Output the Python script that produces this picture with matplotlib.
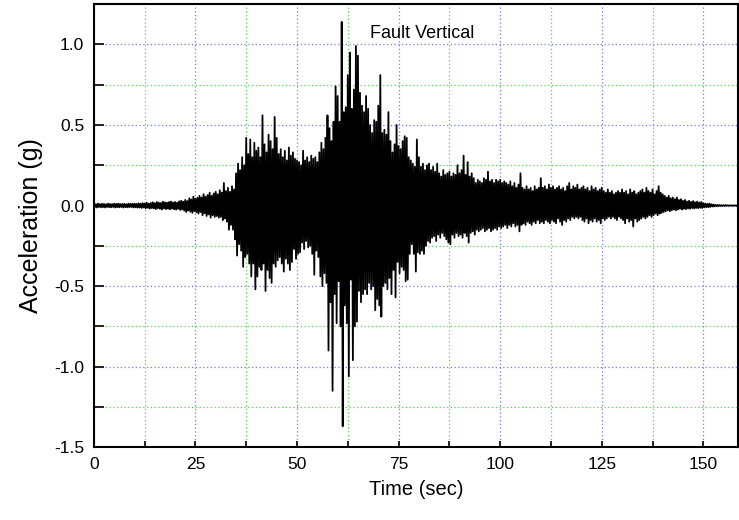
import numpy as np
import matplotlib
matplotlib.use("Agg")
import matplotlib.pyplot as plt
from matplotlib.ticker import MultipleLocator, FormatStrFormatter

plt.rcParams['font.family'] = ['Liberation Sans', 'DejaVu Sans']

# peak values, one per 0.5 s (t = 0 ... 158.5 s)
dt = 0.5
peak_up = [
    0.010, 0.008, 0.012, 0.009, 0.011, 0.010, 0.008, 0.012, 0.010, 0.009, 0.011, 0.010, 0.012, 0.009, 0.010, 0.011, 0.008, 0.012, 0.010, 0.011,
    0.012, 0.010, 0.014, 0.011, 0.015, 0.013, 0.018, 0.012, 0.016, 0.020, 0.015, 0.022, 0.018, 0.016, 0.024, 0.020, 0.018, 0.022, 0.025, 0.019,
    0.022, 0.018, 0.026, 0.030, 0.024, 0.035, 0.028, 0.045, 0.038, 0.055, 0.042, 0.048, 0.060, 0.050, 0.070, 0.055, 0.065, 0.080, 0.060, 0.075,
    0.085, 0.070, 0.095, 0.080, 0.140, 0.090, 0.110, 0.085, 0.120, 0.100, 0.200, 0.260, 0.220, 0.300, 0.250, 0.420, 0.320, 0.410, 0.300, 0.390,
    0.340, 0.360, 0.300, 0.560, 0.380, 0.330, 0.440, 0.400, 0.350, 0.550, 0.420, 0.320, 0.350, 0.300, 0.340, 0.280, 0.360, 0.310, 0.330, 0.290,
    0.280, 0.270, 0.250, 0.340, 0.280, 0.300, 0.270, 0.310, 0.290, 0.300, 0.270, 0.330, 0.390, 0.350, 0.420, 0.560, 0.480, 0.400, 0.520, 0.740,
    0.680, 0.520, 1.140, 0.580, 0.610, 0.810, 0.950, 0.600, 0.720, 0.990, 0.930, 0.700, 0.620, 0.580, 0.680, 0.600, 0.500, 0.450, 0.530, 0.520,
    0.620, 0.810, 0.450, 0.470, 0.440, 0.580, 0.400, 0.330, 0.380, 0.500, 0.370, 0.350, 0.400, 0.430, 0.420, 0.300, 0.280, 0.260, 0.240, 0.410,
    0.300, 0.240, 0.260, 0.220, 0.250, 0.260, 0.220, 0.240, 0.210, 0.260, 0.200, 0.180, 0.220, 0.190, 0.200, 0.210, 0.180, 0.200, 0.190, 0.250,
    0.200, 0.220, 0.310, 0.190, 0.270, 0.180, 0.200, 0.170, 0.140, 0.160, 0.150, 0.140, 0.170, 0.160, 0.210, 0.150, 0.160, 0.140, 0.160, 0.150,
    0.160, 0.140, 0.150, 0.140, 0.130, 0.150, 0.120, 0.140, 0.110, 0.130, 0.200, 0.110, 0.100, 0.120, 0.100, 0.110, 0.090, 0.120, 0.100, 0.110,
    0.170, 0.110, 0.120, 0.100, 0.130, 0.110, 0.120, 0.100, 0.110, 0.120, 0.100, 0.110, 0.090, 0.120, 0.140, 0.100, 0.120, 0.110, 0.130, 0.100,
    0.110, 0.120, 0.100, 0.110, 0.090, 0.120, 0.100, 0.110, 0.090, 0.100, 0.110, 0.090, 0.080, 0.100, 0.080, 0.090, 0.070, 0.080, 0.090, 0.080,
    0.100, 0.080, 0.090, 0.070, 0.100, 0.080, 0.090, 0.070, 0.080, 0.090, 0.100, 0.080, 0.110, 0.090, 0.080, 0.100, 0.070, 0.090, 0.120, 0.080,
    0.070, 0.060, 0.050, 0.060, 0.045, 0.050, 0.040, 0.050, 0.035, 0.040, 0.030, 0.035, 0.025, 0.030, 0.022, 0.028, 0.020, 0.025, 0.018, 0.022,
    0.015, 0.012, 0.010, 0.012, 0.008, 0.006, 0.004, 0.003, 0.003, 0.002, 0.002, 0.002, 0.001, 0.001, 0.001, 0.001, 0.001, 0.001,
]
peak_down = [
    0.010, 0.012, 0.009, 0.011, 0.010, 0.012, 0.009, 0.010, 0.011, 0.009, 0.012, 0.010, 0.011, 0.009, 0.012, 0.010, 0.011, 0.010, 0.009, 0.012,
    0.011, 0.013, 0.012, 0.015, 0.012, 0.017, 0.014, 0.019, 0.016, 0.018, 0.022, 0.017, 0.020, 0.025, 0.018, 0.022, 0.020, 0.024, 0.019, 0.023,
    0.025, 0.020, 0.028, 0.024, 0.032, 0.040, 0.030, 0.038, 0.045, 0.035, 0.042, 0.050, 0.040, 0.060, 0.048, 0.065, 0.055, 0.075, 0.060, 0.070,
    0.065, 0.075, 0.070, 0.090, 0.080, 0.100, 0.150, 0.120, 0.150, 0.210, 0.310, 0.240, 0.280, 0.380, 0.320, 0.300, 0.360, 0.440, 0.360, 0.520,
    0.440, 0.380, 0.400, 0.360, 0.530, 0.400, 0.450, 0.480, 0.360, 0.380, 0.340, 0.320, 0.360, 0.410, 0.330, 0.360, 0.400, 0.350, 0.270, 0.330,
    0.300, 0.290, 0.230, 0.270, 0.220, 0.260, 0.250, 0.300, 0.430, 0.280, 0.320, 0.440, 0.500, 0.420, 0.480, 0.900, 0.600, 1.150, 0.550, 0.730,
    0.470, 0.750, 1.370, 0.620, 0.730, 1.060, 0.460, 0.960, 0.750, 0.720, 0.530, 0.600, 0.550, 0.520, 0.550, 0.480, 0.520, 0.500, 0.650, 0.580,
    0.620, 0.690, 0.500, 0.480, 0.520, 0.450, 0.550, 0.400, 0.570, 0.350, 0.420, 0.380, 0.400, 0.470, 0.460, 0.300, 0.240, 0.300, 0.410, 0.290,
    0.300, 0.280, 0.300, 0.250, 0.220, 0.230, 0.200, 0.190, 0.220, 0.180, 0.200, 0.170, 0.190, 0.210, 0.230, 0.240, 0.180, 0.200, 0.170, 0.190,
    0.180, 0.200, 0.170, 0.190, 0.230, 0.170, 0.160, 0.180, 0.150, 0.160, 0.150, 0.140, 0.160, 0.150, 0.140, 0.160, 0.150, 0.140, 0.150, 0.130,
    0.140, 0.130, 0.120, 0.140, 0.120, 0.130, 0.110, 0.130, 0.120, 0.160, 0.120, 0.110, 0.120, 0.100, 0.110, 0.120, 0.100, 0.110, 0.090, 0.110,
    0.100, 0.110, 0.090, 0.100, 0.110, 0.090, 0.100, 0.110, 0.080, 0.100, 0.120, 0.090, 0.100, 0.080, 0.090, 0.070, 0.080, 0.070, 0.080, 0.070,
    0.090, 0.100, 0.080, 0.110, 0.090, 0.100, 0.080, 0.100, 0.090, 0.110, 0.080, 0.090, 0.080, 0.070, 0.080, 0.070, 0.080, 0.090, 0.070, 0.080,
    0.090, 0.110, 0.080, 0.100, 0.090, 0.130, 0.080, 0.100, 0.090, 0.080, 0.070, 0.080, 0.070, 0.060, 0.070, 0.060, 0.050, 0.060, 0.050, 0.045,
    0.040, 0.035, 0.030, 0.035, 0.030, 0.025, 0.030, 0.025, 0.020, 0.025, 0.020, 0.022, 0.018, 0.020, 0.016, 0.018, 0.015, 0.016, 0.014, 0.015,
    0.012, 0.010, 0.010, 0.008, 0.006, 0.005, 0.003, 0.003, 0.002, 0.002, 0.002, 0.001, 0.001, 0.001, 0.001, 0.001, 0.001, 0.001,
]

# interleave positive and negative peaks into one trace
up = np.array(peak_up)
down = -np.array(peak_down)
t_up = np.arange(len(up)) * dt
t = np.empty(2 * len(up))
acc = np.empty(2 * len(up))
t[0::2] = t_up
t[1::2] = t_up + dt / 2
acc[0::2] = up
acc[1::2] = down

fig = plt.figure(figsize=(7.39, 5.2), dpi=100)
ax = fig.add_axes([0.127, 0.140, 0.872, 0.852])

ax.plot(t, acc, color='black', linewidth=1.3)

ax.set_xlim(0, 158.6)
ax.set_ylim(-1.5, 1.25)
ax.xaxis.set_major_locator(MultipleLocator(25))
ax.xaxis.set_minor_locator(MultipleLocator(12.5))
ax.yaxis.set_major_locator(MultipleLocator(0.5))
ax.yaxis.set_minor_locator(MultipleLocator(0.25))
ax.yaxis.set_major_formatter(FormatStrFormatter('%.1f'))

ax.grid(which='major', color='#7777ff', linestyle=(0, (1, 2)), linewidth=0.9)
ax.grid(which='minor', color='#44e044', linestyle=(0, (1, 2)), linewidth=0.9)
ax.set_axisbelow(True)

ax.tick_params(axis='y', which='both', direction='in', length=7, width=1.2, labelsize=12.5, pad=7)
ax.tick_params(axis='x', which='both', direction='in', length=4, width=1.2, labelsize=12.5, pad=7)
for s in ax.spines.values():
    s.set_linewidth(1.5)

ax.set_xlabel('Time (sec)', fontsize=14.5, labelpad=6)
ax.set_ylabel('Acceleration (g)', fontsize=18, labelpad=8)
ax.text(80.8, 1.07, 'Fault Vertical', fontsize=13, ha='center', va='center')

fig.savefig('out.png', dpi=100)
